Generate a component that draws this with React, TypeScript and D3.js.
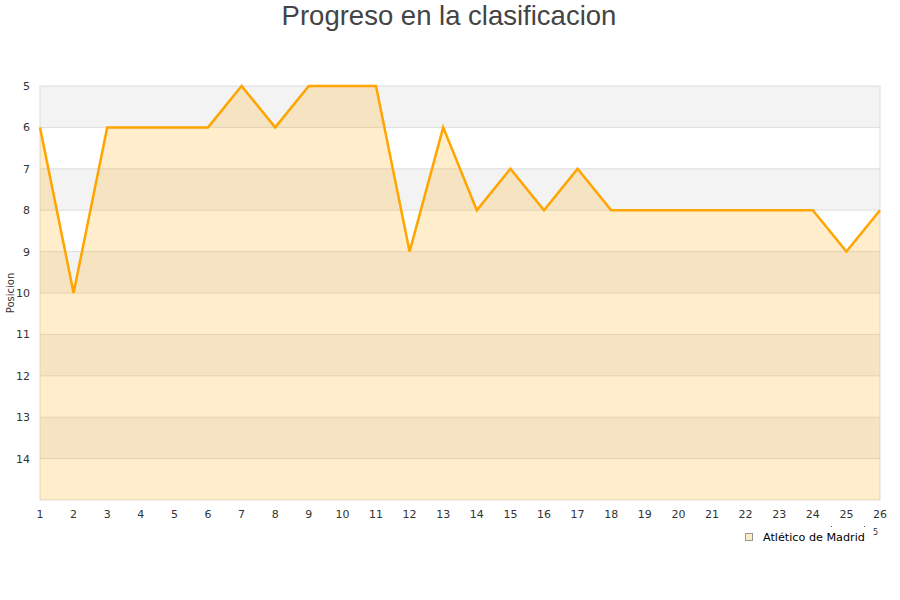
import * as d3 from "d3";

// jornadas y posiciones
const jornadas = d3.range(1, 27);
const posiciones = [6, 10, 6, 6, 6, 6, 5, 6, 5, 5, 5, 9, 6, 8, 7, 8, 7, 8, 8, 8, 8, 8, 8, 8, 9, 8];
const yTicks = [5, 6, 7, 8, 9, 10, 11, 12, 13, 14];
const equipo = "Atlético de Madrid";

const width = 900;
const height = 600;
const left = 40;
const right = 880;
const top = 86;
const bottom = 500;

const App = () => {
  const x = d3.scaleLinear().domain([1, 26]).range([left, right]);
  const y = d3.scaleLinear().domain([5, 15]).range([top, bottom]);

  const pts = jornadas.map((j, i) => [j, posiciones[i]] as [number, number]);

  const line = d3.line<[number, number]>()
    .x(d => x(d[0]))
    .y(d => y(d[1]));

  const area = d3.area<[number, number]>()
    .x(d => x(d[0]))
    .y0(y(15))
    .y1(d => y(d[1]));

  // bandas alternas: gris en 5-6, 7-8, ...
  const bands = d3.range(5, 15);

  return (
    <svg width={width} height={height} style={{position: "absolute", left: 0, top: 0}}>
      <rect x={0} y={0} width={width} height={height} fill="#fff"/>
      <text x={449} y={25} textAnchor="middle" fontFamily="Liberation Sans, Arial, sans-serif"
            fontSize={27.5} fill="#444">Progreso en la clasificacion</text>

      {bands.map(b => (
        <rect key={b} x={left} y={y(b)} width={right - left} height={y(b + 1) - y(b)}
              fill={(b - 5) % 2 === 0 ? "#f3f3f3" : "#ffffff"}/>
      ))}
      {yTicks.slice(1).map(t => (
        <line key={t} x1={left} x2={right} y1={y(t)} y2={y(t)} stroke="#dddddd" strokeWidth={1}/>
      ))}
      <rect x={left} y={top} width={right - left} height={bottom - top} fill="none" stroke="#dddddd"/>

      <path d={area(pts) ?? ""} fill="#ffa500" fillOpacity={0.2}/>
      <path d={line(pts) ?? ""} fill="none" stroke="#ffa500" strokeWidth={2.5} strokeLinejoin="miter"/>

      {yTicks.map(t => (
        <text key={t} x={30} y={y(t) + 4} textAnchor="end" fontFamily="DejaVu Sans, sans-serif"
              fontSize={11} fill="#333">{t}</text>
      ))}
      {jornadas.map(j => (
        <text key={j} x={x(j)} y={518} textAnchor="middle" fontFamily="DejaVu Sans, sans-serif"
              fontSize={11} fill="#333">{j}</text>
      ))}

      <text transform={`translate(14,${(top + bottom) / 2}) rotate(-90)`} textAnchor="middle"
            fontFamily="DejaVu Sans, sans-serif" fontSize={10} fill="#333">Posicion</text>

      <rect x={745.5} y={533.5} width={7} height={7} fill="#fdecc8" stroke="#999"/>
      <text x={763} y={541} fontFamily="DejaVu Sans, sans-serif" fontSize={11.2} fill="#000">{equipo}</text>
      <text x={873} y={535} fontFamily="DejaVu Sans, sans-serif" fontSize={8} fill="#333">5</text>
      <rect x={831} y={526} width={1} height={1} fill="#555"/>
      <rect x={864} y={526} width={1} height={1} fill="#555"/>
    </svg>
  );
};

export default App;
